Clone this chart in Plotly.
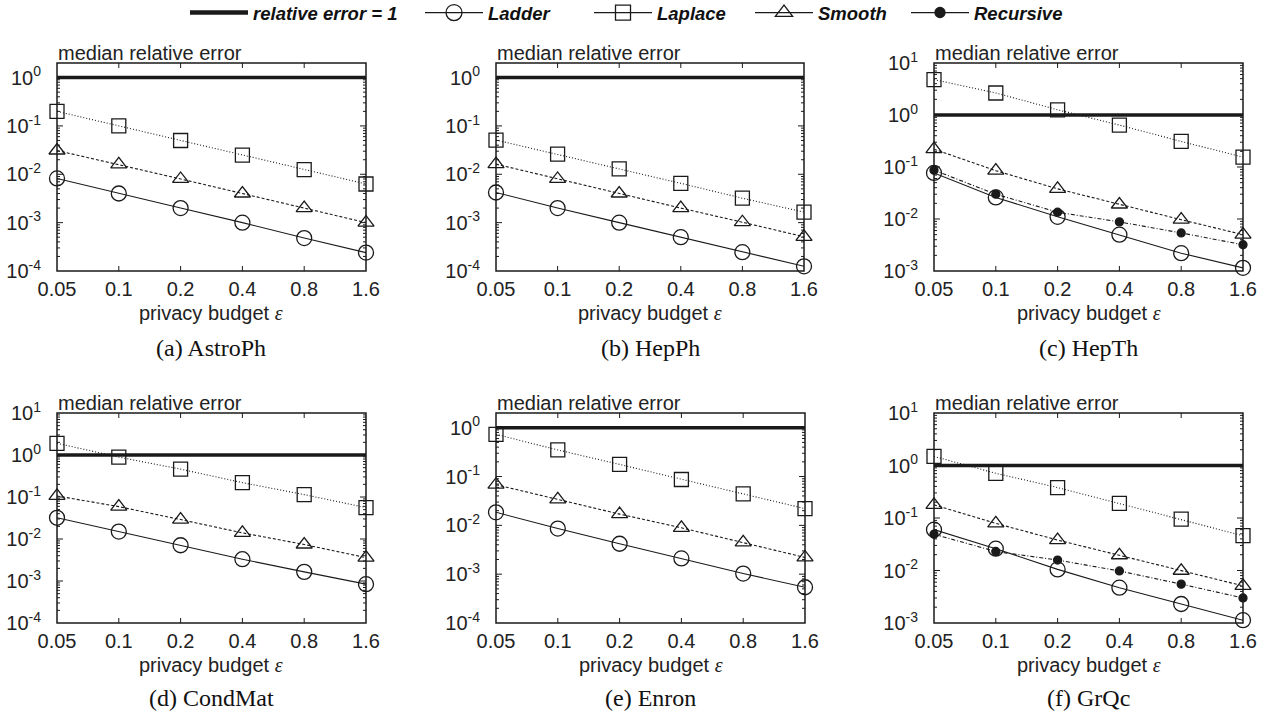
import math
import plotly.graph_objects as go

W, H = 1270, 715

# ---------------- data ----------------
eps = [0.05, 0.1, 0.2, 0.4, 0.8, 1.6]
eps_labels = ["0.05", "0.1", "0.2", "0.4", "0.8", "1.6"]
threshold = 1.0

ladder_astroph = [0.0082, 0.004, 0.002, 0.001, 0.00048, 0.00024]
laplace_astroph = [0.2, 0.1, 0.05, 0.025, 0.0125, 0.0063]
smooth_astroph = [0.031, 0.016, 0.008, 0.004, 0.002, 0.001]

ladder_hepph = [0.0042, 0.002, 0.001, 0.0005, 0.000245, 0.000125]
laplace_hepph = [0.051, 0.026, 0.0129, 0.0065, 0.0032, 0.00165]
smooth_hepph = [0.0162, 0.008, 0.004, 0.002, 0.00102, 0.00051]

ladder_hepth = [0.077, 0.026, 0.011, 0.005, 0.0022, 0.00115]
laplace_hepth = [4.8, 2.65, 1.26, 0.64, 0.31, 0.155]
smooth_hepth = [0.22, 0.085, 0.038, 0.019, 0.0097, 0.005]
recursive_hepth = [0.087, 0.030, 0.0135, 0.0088, 0.0054, 0.0032]

ladder_condmat = [0.032, 0.015, 0.0071, 0.0033, 0.00165, 0.00084]
laplace_condmat = [1.9, 0.89, 0.46, 0.22, 0.114, 0.056]
smooth_condmat = [0.106, 0.059, 0.029, 0.014, 0.0074, 0.0036]

ladder_enron = [0.0185, 0.0086, 0.0042, 0.0021, 0.00103, 0.00054]
laplace_enron = [0.73, 0.35, 0.177, 0.087, 0.044, 0.022]
smooth_enron = [0.068, 0.034, 0.017, 0.0089, 0.0045, 0.0022]

ladder_grqc = [0.060, 0.026, 0.0105, 0.0047, 0.0023, 0.00113]
laplace_grqc = [1.49, 0.71, 0.38, 0.19, 0.095, 0.046]
smooth_grqc = [0.178, 0.079, 0.038, 0.0195, 0.0099, 0.0051]
recursive_grqc = [0.049, 0.023, 0.0158, 0.0098, 0.0055, 0.0030]

captions = ["(a) AstroPh", "(b) HepPh", "(c) HepTh", "(d) CondMat", "(e) Enron", "(f) GrQc"]
y_exponents = [
    [-4, -3, -2, -1, 0],
    [-4, -3, -2, -1, 0],
    [-3, -2, -1, 0, 1],
    [-4, -3, -2, -1, 0, 1],
    [-4, -3, -2, -1, 0],
    [-3, -2, -1, 0, 1],
]
series = [
    dict(Ladder=ladder_astroph, Laplace=laplace_astroph, Smooth=smooth_astroph),
    dict(Ladder=ladder_hepph, Laplace=laplace_hepph, Smooth=smooth_hepph),
    dict(Ladder=ladder_hepth, Laplace=laplace_hepth, Smooth=smooth_hepth, Recursive=recursive_hepth),
    dict(Ladder=ladder_condmat, Laplace=laplace_condmat, Smooth=smooth_condmat),
    dict(Ladder=ladder_enron, Laplace=laplace_enron, Smooth=smooth_enron),
    dict(Ladder=ladder_grqc, Laplace=laplace_grqc, Smooth=smooth_grqc, Recursive=recursive_grqc),
]

# ---------------- layout geometry (pixels) ----------------
# (left, right, top, bottom, ymin_log, ymax_log)
geom = [
    (57, 366, 63, 271, -4, math.log10(2)),
    (496, 804, 63, 271, -4, math.log10(2)),
    (934, 1243, 63, 271, -3, 1),
    (57, 366, 413, 623, -4, 1),
    (496, 805, 413, 623, -4, math.log10(2)),
    (934, 1243, 413, 623, -3, 1),
]

INK = "#1a1a1a"
SANS = "Liberation Sans, Arial, sans-serif"
SERIF = "Liberation Serif, Times New Roman, serif"
MAJOR_LEN = 6
MINOR_LEN = 3

styles = {
    "Ladder": dict(dash="solid", symbol="circle-open", size=15),
    "Laplace": dict(dash="1px,2px", symbol="square-open", size=14),
    "Smooth": dict(dash="3px,2px", symbol="triangle-up-open", size=14),
    "Recursive": dict(dash="4px,2px,1px,2px", symbol="circle", size=8),
}

fig = go.Figure()
annotations = []
shapes = []
layout = {}

def px_x(p):
    return p / W

def px_y(p):
    return 1 - p / H

def xtick(xa, ya, v, side, length):
    return dict(type="line", xref=xa, x0=v, x1=v,
                yref=f"{ya} domain", ysizemode="pixel", yanchor=side,
                y0=0, y1=length if side == 0 else -length,
                line=dict(color=INK, width=1), layer="below")

def ytick(xa, ya, v, side, length):
    return dict(type="line", yref=ya, y0=v, y1=v,
                xref=f"{xa} domain", xsizemode="pixel", xanchor=side,
                x0=0, x1=length if side == 0 else -length,
                line=dict(color=INK, width=1), layer="below")

for i, (g, ser, exps, cap) in enumerate(zip(geom, series, y_exponents, captions)):
    n = i + 1
    xa = "x" if n == 1 else f"x{n}"
    ya = "y" if n == 1 else f"y{n}"
    left, right, top, bottom, ylo, yhi = g

    # threshold line
    fig.add_trace(go.Scatter(
        x=[eps[0], eps[-1]], y=[threshold, threshold], mode="lines",
        line=dict(color=INK, width=3.5), xaxis=xa, yaxis=ya,
        showlegend=False, cliponaxis=False, hoverinfo="skip"))

    for name in ["Laplace", "Smooth", "Recursive", "Ladder"]:
        if name not in ser:
            continue
        st = styles[name]
        fig.add_trace(go.Scatter(
            x=eps, y=ser[name], mode="lines+markers", name=name,
            line=dict(color=INK, width=1.1, dash=st["dash"]),
            marker=dict(symbol=st["symbol"], size=st["size"], color=INK,
                        line=dict(color=INK, width=1.3)),
            xaxis=xa, yaxis=ya, showlegend=False, cliponaxis=False))

    layout["xaxis" if n == 1 else f"xaxis{n}"] = dict(
        domain=[px_x(left), px_x(right)], anchor=ya, type="log",
        range=[math.log10(eps[0]), math.log10(eps[-1])],
        tickmode="array", tickvals=eps, ticktext=eps_labels,
        ticks="", showline=False,
        showgrid=False, zeroline=False, automargin=False, ticklabelstandoff=4,
        tickfont=dict(family=SANS, size=20, color="#222"))
    layout["yaxis" if n == 1 else f"yaxis{n}"] = dict(
        domain=[px_y(bottom), px_y(top)], anchor=xa, type="log",
        range=[ylo, yhi],
        tickmode="array", tickvals=[10 ** e for e in exps],
        ticktext=[f"10<sup>{e}</sup>" for e in exps],
        ticks="", showline=False,
        showgrid=False, zeroline=False, ticklabelstandoff=15, automargin=False,
        tickfont=dict(family=SANS, size=20, color="#222"))

    # plot frame
    shapes.append(dict(
        type="rect", xref=f"{xa} domain", yref=f"{ya} domain",
        x0=0, x1=1, y0=0, y1=1, layer="below",
        line=dict(color=INK, width=1.5), fillcolor="rgba(0,0,0,0)"))

    # inside ticks, mirrored on both sides
    for v in eps[1:-1]:
        shapes.append(xtick(xa, ya, v, 0, MAJOR_LEN - 1))
        shapes.append(xtick(xa, ya, v, 1, MAJOR_LEN - 1))
    for e in range(int(math.floor(ylo)), int(math.ceil(yhi)) + 1):
        for m in range(1, 10):
            v = m * 10 ** e
            lv = math.log10(v)
            if lv <= ylo + 1e-9 or lv >= yhi - 1e-9:
                continue
            ln = MAJOR_LEN if m == 1 else MINOR_LEN
            shapes.append(ytick(xa, ya, v, 0, ln))
            shapes.append(ytick(xa, ya, v, 1, ln))

    top_row = n <= 3
    annotations.append(dict(
        text="median relative error", x=px_x(left - 1), y=px_y(top - 10),
        xref="paper", yref="paper", xanchor="left", yanchor="middle",
        showarrow=False, font=dict(family=SANS, size=20, color="#222")))
    annotations.append(dict(
        text="privacy budget <span style='font-family:Liberation Serif'><i>ε</i></span>",
        x=px_x((left + right) / 2), y=px_y(313 if top_row else 665),
        xref="paper", yref="paper", xanchor="center", yanchor="middle",
        showarrow=False, font=dict(family=SANS, size=20, color="#222")))
    annotations.append(dict(
        text=cap, x=px_x((left + right) / 2), y=px_y(348 if top_row else 698),
        xref="paper", yref="paper", xanchor="center", yanchor="middle",
        showarrow=False, font=dict(family=SERIF, size=24, color="#111")))

# ---------------- legend (one legend per entry) ----------------
legend_entries = ["relative error = 1", "Ladder", "Laplace", "Smooth", "Recursive"]
legend_left_px = [185, 420, 589, 750, 906]
for k, lab in enumerate(legend_entries):
    lg = "legend" if k == 0 else f"legend{k+1}"
    if k == 0:
        tr = go.Scatter(x=[None], y=[None], mode="lines", name=lab,
                        line=dict(color=INK, width=4.5), legend=lg)
    else:
        st = styles[lab]
        tr = go.Scatter(x=[None], y=[None], mode="lines+markers", name=lab,
                        line=dict(color=INK, width=1.3),
                        marker=dict(symbol=st["symbol"], size=st["size"] + (1 if lab != "Recursive" else 2),
                                    color=INK, line=dict(color=INK, width=1.3)),
                        legend=lg)
    fig.add_trace(tr)
    layout[lg] = dict(
        x=px_x(legend_left_px[k]), y=px_y(13), xanchor="left", yanchor="middle",
        orientation="h", itemwidth=58,
        bgcolor="rgba(0,0,0,0)", borderwidth=0,
        font=dict(family=SANS, size=18.5, color="#111", weight="bold", style="italic"),
        itemclick=False, itemdoubleclick=False)

fig.update_layout(
    template="none",
    width=W, height=H, margin=dict(l=0, r=0, t=0, b=0, autoexpand=False),
    paper_bgcolor="white", plot_bgcolor="white",
    annotations=annotations, shapes=shapes, showlegend=True, **layout)

fig.write_html("out.html")
